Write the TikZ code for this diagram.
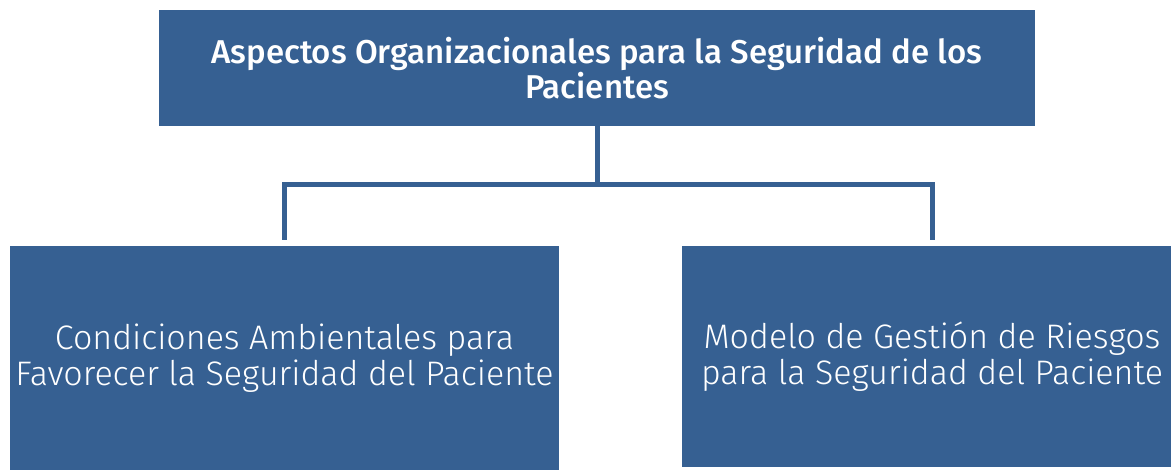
\documentclass[tikz,border=0pt]{standalone}
\usepackage{fontspec}
\setmainfont{Fira Sans}
\newfontfamily\thinfont{Fira Sans Light}
\newfontfamily\medfont{Fira Sans Medium}
\usepackage{tikz}
\usetikzlibrary{positioning}

\definecolor{boxblue}{RGB}{54,96,146}

\begin{document}
\begin{tikzpicture}[x=1pt, y=-1pt, semithick, every node/.style={inner sep=0pt, outer sep=0pt},
		topbox/.style={fill=boxblue, text=white, align=center, minimum width=876pt, minimum height=116pt, font=\medfont\fontsize{33}{35}\selectfont},
		subbox/.style={fill=boxblue, text=white, align=center, font=\thinfont\fontsize{34}{36}\selectfont},
		link/.style={draw=boxblue, line width=5pt}]
		\useasboundingbox (0,0) rectangle (1171,470);
		\node[topbox]										(top) at (597, 68) {Aspectos Organizacionales para la Seguridad de los\\Pacientes};
		\node[subbox, minimum width=549pt, minimum height=224pt]	(cond) at (284.5, 358) {Condiciones Ambientales para\\Favorecer la Seguridad del Paciente};
		\node[subbox, minimum width=500pt, minimum height=221pt]	(model) at (932, 356.5) {Modelo de Gestión de Riesgos\\para la Seguridad del Paciente};
		\coordinate											(fork) at (597, 185);

		\draw[link] (top.south) -- (fork);
		\draw[link, shorten >=6pt] (fork) -| (cond.north);
		\draw[link, shorten >=6pt] (fork) -| (model.north);
	\end{tikzpicture}
\end{document}
